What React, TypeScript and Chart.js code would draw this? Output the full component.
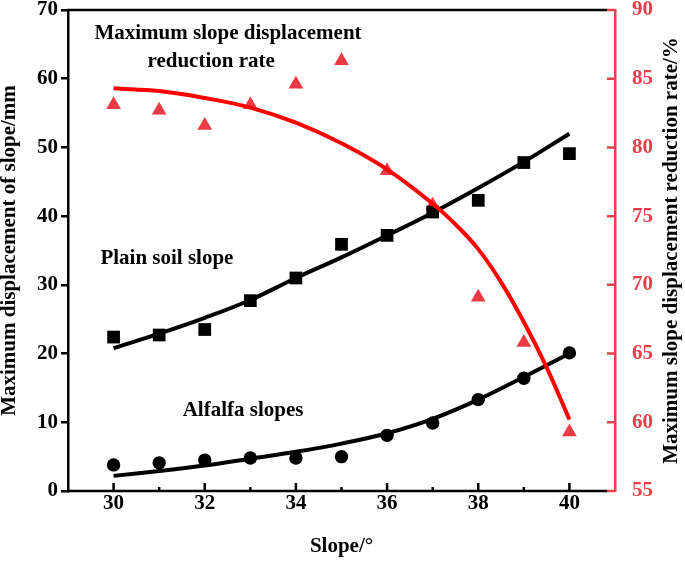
import React, { useEffect, useRef } from "react";
import { Chart, registerables } from "chart.js";

Chart.register(...registerables);

// ---- data ----
const slopeAngles = [30, 31, 32, 33, 34, 35, 36, 37, 38, 39, 40];
const plainSoilDisp = [22.4, 22.7, 23.5, 27.7, 31.0, 35.9, 37.2, 40.6, 42.3, 47.8, 49.1];
const alfalfaDisp = [3.8, 4.1, 4.5, 4.8, 4.8, 5.0, 8.1, 9.9, 13.3, 16.4, 20.1];
const reductionRate = [83.1, 82.7, 81.6, 83.1, 84.6, 86.3, 78.3, 75.8, 69.1, 65.8, 59.3];
const plainSoilFit = [20.8, 22.9, 25.2, 27.8, 31.0, 34.0, 37.2, 40.5, 44.1, 47.9, 52.0];
const alfalfaFit = [2.2, 2.9, 3.7, 4.7, 5.7, 6.9, 8.4, 10.5, 13.3, 16.6, 20.0];
const reductionFitAngles = [30, 31, 32, 33, 34, 35, 36, 37, 37.5, 38, 38.5, 39, 39.5, 40];
const reductionFit = [84.3, 84.1, 83.6, 82.9, 81.8, 80.3, 78.4, 75.9, 74.4, 72.6, 70.2, 67.3, 64.0, 60.2];

const xTickLabels = [30, 32, 34, 36, 38, 40];
const leftTicks = [0, 10, 20, 30, 40, 50, 60, 70];
const rightTicks = [55, 60, 65, 70, 75, 80, 85, 90];

const xTitle = "Slope/°";
const leftTitle = "Maximum displacement of slope/mm";
const rightTitle = "Maximum slope displacement reduction rate/%";

// annotation texts placed in data coordinates (x: slope, y: left axis)
const annotationTexts = ["Maximum slope displacement", "reduction rate", "Plain soil slope", "Alfalfa slopes"];
const annotationX = [32.51, 32.14, 31.17, 32.84];
const annotationY = [66.6, 62.5, 33.85, 11.75];

const FONT = "'Liberation Serif', 'Times New Roman', serif";
const RED_AXIS = "#E8404A";
const RED_MARK = "#E93A45";
const RED_LINE = "#FF0000";

const pts = (xs: number[], ys: number[]) => xs.map((x, i) => ({ x, y: ys[i] }));

const framePlugin = {
  id: "framePlugin",
  afterDraw(chart: any) {
    const { ctx, chartArea } = chart;
    const { left, right, top, bottom } = chartArea;
    const xs = chart.scales.x;
    const ys = chart.scales.y;
    const y1 = chart.scales.y1;
    ctx.save();
    ctx.lineCap = "butt";
    ctx.lineWidth = 2.5;
    ctx.strokeStyle = "#000";
    ctx.beginPath();
    ctx.moveTo(left - 1, top);
    ctx.lineTo(right - 8, top);
    ctx.moveTo(left - 1, bottom);
    ctx.lineTo(right - 8, bottom);
    ctx.stroke();
    // inward ticks on the slope axis
    ctx.beginPath();
    slopeAngles.forEach((v) => {
      const px = xs.getPixelForValue(v);
      const len = v % 2 === 0 ? 8 : 4;
      ctx.moveTo(px, bottom);
      ctx.lineTo(px, bottom - len);
    });
    ctx.stroke();
    // inward ticks on the right axis
    ctx.strokeStyle = RED_AXIS;
    ctx.beginPath();
    rightTicks.forEach((v) => {
      const py = y1.getPixelForValue(v);
      ctx.moveTo(right - 8, py);
      ctx.lineTo(right, py);
    });
    ctx.stroke();
    // annotations
    ctx.fillStyle = "#000";
    ctx.font = `bold 21px ${FONT}`;
    ctx.textAlign = "center";
    ctx.textBaseline = "middle";
    annotationTexts.forEach((t, i) => {
      ctx.fillText(t, xs.getPixelForValue(annotationX[i]), ys.getPixelForValue(annotationY[i]));
    });
    // right title, reading bottom to top
    ctx.translate(right + 57, (top + bottom) / 2);
    ctx.rotate(-Math.PI / 2);
    ctx.fillText(rightTitle, 0, 0);
    ctx.restore();
  },
};

export default function App() {
  const canvasRef = useRef<HTMLCanvasElement | null>(null);

  useEffect(() => {
    document.body.style.margin = "0";
    const canvas = canvasRef.current;
    if (!canvas) return;
    const font = { family: FONT, weight: "bold" as const, size: 21 };
    const chart = new Chart(canvas, {
      type: "scatter",
      data: {
        datasets: [
          {
            type: "line",
            label: "reduction fit",
            data: pts(reductionFitAngles, reductionFit),
            yAxisID: "y1",
            borderColor: RED_LINE,
            borderWidth: 4,
            pointRadius: 0,
            showLine: true,
            tension: 0.4,
            fill: false,
            order: 0,
          },
          {
            type: "line",
            label: "plain fit",
            data: pts(slopeAngles, plainSoilFit),
            yAxisID: "y",
            borderColor: "#000",
            borderWidth: 4,
            pointRadius: 0,
            showLine: true,
            tension: 0.4,
            fill: false,
            order: 1,
          },
          {
            type: "line",
            label: "alfalfa fit",
            data: pts(slopeAngles, alfalfaFit),
            yAxisID: "y",
            borderColor: "#000",
            borderWidth: 4,
            pointRadius: 0,
            showLine: true,
            tension: 0.4,
            fill: false,
            order: 1,
          },
          {
            label: "Plain soil slope",
            data: pts(slopeAngles, plainSoilDisp),
            yAxisID: "y",
            pointStyle: "rect",
            pointRadius: 9,
            backgroundColor: "#000",
            borderColor: "#000",
            borderWidth: 0,
            order: 2,
          },
          {
            label: "Alfalfa slopes",
            data: pts(slopeAngles, alfalfaDisp),
            yAxisID: "y",
            pointStyle: "circle",
            pointRadius: 6.7,
            backgroundColor: "#000",
            borderColor: "#000",
            borderWidth: 0,
            order: 2,
          },
          {
            label: "Reduction rate",
            data: pts(slopeAngles, reductionRate),
            yAxisID: "y1",
            pointStyle: "triangle",
            pointRadius: 8.5,
            backgroundColor: RED_MARK,
            borderColor: RED_MARK,
            borderWidth: 0,
            order: 3,
          },
        ],
      },
      options: {
        animation: false,
        responsive: false,
        devicePixelRatio: 1,
        layout: { padding: { top: 10, left: 0, right: 0, bottom: 0 } },
        plugins: { legend: { display: false }, tooltip: { enabled: false } },
        scales: {
          x: {
            type: "linear",
            min: 29,
            max: 41,
            afterBuildTicks: (s: any) => {
              s.ticks = xTickLabels.map((v) => ({ value: v }));
            },
            afterFit: (s: any) => {
              s.height = 70;
              s.paddingLeft = 0;
              s.paddingRight = 0;
            },
            grid: { display: false },
            border: { display: false },
            ticks: { color: "#000", font, padding: -8, maxRotation: 0, autoSkip: false },
            title: { display: true, text: xTitle, color: "#000", font, padding: { top: 0, bottom: 2 } },
          },
          y: {
            type: "linear",
            position: "left",
            min: 0,
            max: 70,
            afterBuildTicks: (s: any) => {
              s.ticks = leftTicks.map((v) => ({ value: v }));
            },
            afterFit: (s: any) => {
              s.width = 68;
              s.paddingTop = 0;
              s.paddingBottom = 0;
            },
            grid: { display: true, drawOnChartArea: false, drawTicks: true, tickLength: 7, color: "#000", lineWidth: 2.5 },
            border: { display: true, color: "#000", width: 2.5 },
            ticks: { color: "#000", font, padding: 3 },
            title: { display: true, text: leftTitle, color: "#000", font, padding: { top: -3, bottom: 0 } },
          },
          y1: {
            type: "linear",
            position: "right",
            min: 55,
            max: 90,
            afterBuildTicks: (s: any) => {
              s.ticks = rightTicks.map((v) => ({ value: v }));
            },
            afterFit: (s: any) => {
              s.width = 70;
              s.paddingTop = 0;
              s.paddingBottom = 0;
            },
            grid: { display: false },
            border: { display: true, color: RED_AXIS, width: 2.5 },
            ticks: { color: RED_AXIS, font, padding: 9 },
            title: { display: false },
          },
        },
      },
      plugins: [framePlugin],
    } as any);
    return () => chart.destroy();
  }, []);

  return (
    <div style={{ position: "absolute", left: 0, top: 0, width: 685, height: 561, background: "#fff" }}>
      <canvas ref={canvasRef} width={685} height={561} style={{ width: 685, height: 561 }} />
    </div>
  );
}
